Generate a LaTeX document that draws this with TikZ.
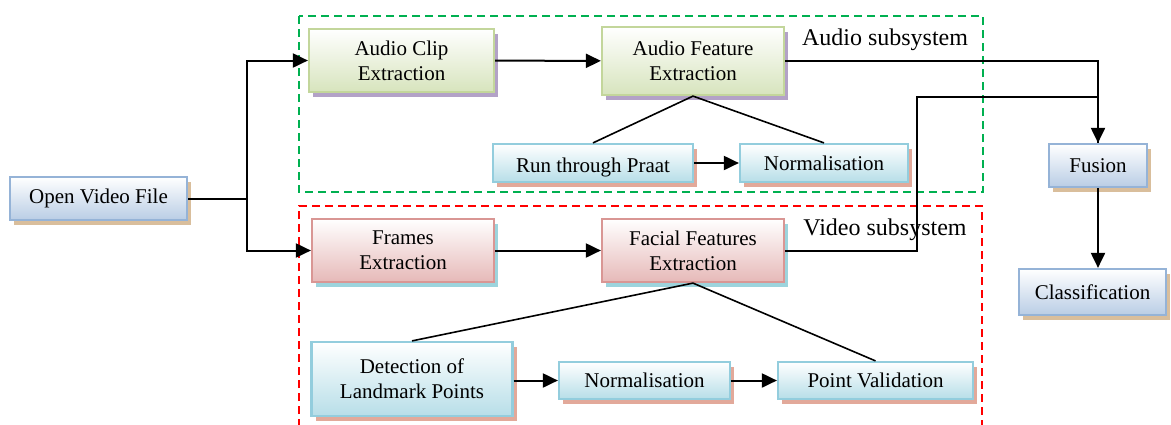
\documentclass[tikz,border=0pt]{standalone}
\usepackage{fontspec}
\setmainfont{Liberation Serif}
\usetikzlibrary{arrows.meta,shadows}

\definecolor{blueline}{HTML}{95B3D7}
\definecolor{bluefill}{HTML}{B9CDE5}
\definecolor{tanshadow}{HTML}{D9BE9C}
\definecolor{greenline}{HTML}{C3D69B}
\definecolor{greenfill}{HTML}{D7E4BD}
\definecolor{purpleshadow}{HTML}{B3A2C7}
\definecolor{cyanline}{HTML}{93CDDD}
\definecolor{cyanfill}{HTML}{B7DEE8}
\definecolor{salmonshadow}{HTML}{E2A99A}
\definecolor{redline}{HTML}{D99694}
\definecolor{redfill}{HTML}{E6B9B8}
\definecolor{cyanshadow}{HTML}{9DD4DD}
\definecolor{audiogreen}{HTML}{00B050}

\tikzset{
  x=1pt, y=-1pt,
  boxbase/.style={rectangle, align=center, inner sep=2pt, line width=2.2pt,
    font=\rmfamily\fontsize{21}{25}\selectfont, top color=white},
  bluebox/.style={boxbase, draw=blueline, bottom color=bluefill,
    general shadow={fill=tanshadow, shadow xshift=4pt, shadow yshift=-5pt}},
  greenbox/.style={boxbase, draw=greenline, bottom color=greenfill,
    general shadow={fill=purpleshadow, shadow xshift=4pt, shadow yshift=-5pt}},
  cyanbox/.style={boxbase, draw=cyanline, bottom color=cyanfill,
    general shadow={fill=salmonshadow, shadow xshift=4pt, shadow yshift=-5pt}},
  redbox/.style={boxbase, draw=redline, bottom color=redfill,
    general shadow={fill=cyanshadow, shadow xshift=4pt, shadow yshift=-5pt}},
  arr/.style={line width=2pt, -{Triangle[length=15pt,width=14pt]}},
  wire/.style={line width=2pt},
  branch/.style={line width=1.6pt},
  groupbox/.style={dash pattern=on 8pt off 5pt, line width=2pt},
  grouplabel/.style={font=\rmfamily\fontsize{24}{28}\selectfont, inner sep=0pt},
}

\begin{document}
\begin{tikzpicture}
\useasboundingbox (0,0) rectangle (1171,424);
\clip (0,0) rectangle (1171,424);

% subsystem frames
\draw[groupbox, draw=audiogreen] (299,16) rectangle (983,192);
\draw[groupbox, draw=red] (299,440) -- (299,206) -- (982,206) -- (982,440);
\node[grouplabel] (alabel) at (885,40) {Audio subsystem};
\node[grouplabel] (vlabel) at (885,230) {Video subsystem};

% processing blocks
\node[bluebox, minimum width=177, minimum height=43] (open) at (98.5,198.5) {Open Video File};
\node[greenbox, minimum width=185, minimum height=63] (clip) at (401.5,60.5) {Audio Clip\\Extraction};
\node[greenbox, minimum width=182, minimum height=68] (afeat) at (693,61) {Audio Feature\\Extraction};
\node[cyanbox, minimum width=200, minimum height=38, text depth=1pt, text height=19pt] (praat) at (593,163) {Run through Praat};
\node[cyanbox, minimum width=168, minimum height=38] (anorm) at (824,163) {Normalisation};
\node[redbox, minimum width=182, minimum height=63] (frames) at (403,250.5) {Frames\\Extraction};
\node[redbox, minimum width=182, minimum height=63] (ffeat) at (693,250.5) {Facial Features\\Extraction};
\node[cyanbox, minimum width=201, minimum height=74] (detect) at (412,379) {Detection of\\Landmark Points};
\node[cyanbox, minimum width=171, minimum height=37] (vnorm) at (644.5,380.5) {Normalisation};
\node[cyanbox, minimum width=195, minimum height=37] (pval) at (875.5,380.5) {Point Validation};
\node[bluebox, minimum width=98, minimum height=43] (fusion) at (1098,165.5) {Fusion};
\node[bluebox, minimum width=147, minimum height=46] (classif) at (1092.5,292) {Classification};

% split of the video into audio and frames
\coordinate (split) at (247,198.5);
\draw[wire] (open.east) -- (split);
\draw[arr] (split) |- (clip.west);
\draw[arr] (split) |- (frames.west);

% main chains
\draw[arr] (clip) -- (afeat);
\draw[arr] (frames) -- (ffeat);
\draw[arr] (praat) -- (anorm);
\draw[arr] (detect.east |- vnorm) -- (vnorm);
\draw[arr] (vnorm) -- (pval);

% sub-steps of the feature extraction
\draw[branch] (praat.north) -- (afeat.south) -- (anorm.north);
\draw[branch] (detect.north) -- (ffeat.south) -- (pval.north);

% feature streams into fusion
\coordinate (vturn) at (917,97);
\draw[wire] (ffeat.east) -| (vturn) -| (fusion.north);
\draw[arr] (afeat.east) -| (fusion.north);
\draw[arr] (fusion.south) -- (fusion.south |- classif.north);
\end{tikzpicture}
\end{document}
